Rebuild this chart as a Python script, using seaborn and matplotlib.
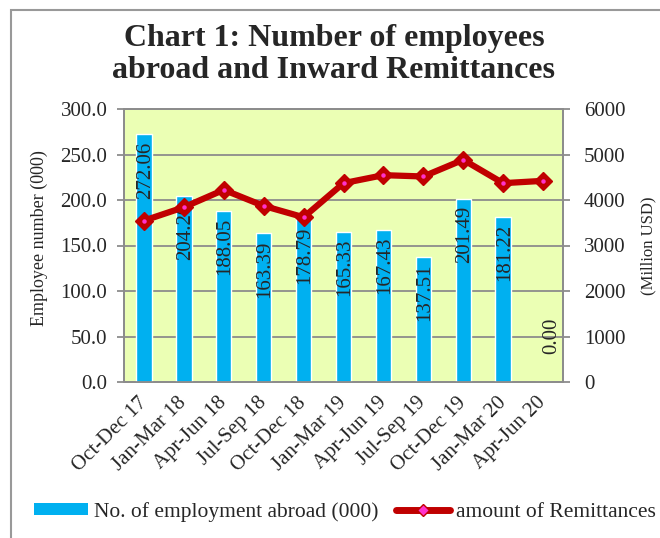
import numpy as np
import seaborn as sns
import matplotlib.pyplot as plt
from matplotlib.patches import Patch, Rectangle
from matplotlib.lines import Line2D

# Chart data
quarters = ['Oct-Dec 17', 'Jan-Mar 18', 'Apr-Jun 18', 'Jul-Sep 18', 'Oct-Dec 18',
            'Jan-Mar 19', 'Apr-Jun 19', 'Jul-Sep 19', 'Oct-Dec 19', 'Jan-Mar 20',
            'Apr-Jun 20']
employees = [272.06, 204.20, 188.05, 163.39, 178.79, 165.33, 167.43, 137.51,
             201.49, 181.22, 0.00]
remittances = [3547, 3841, 4223, 3870, 3621, 4370, 4546, 4517, 4884, 4370, 4421]

left_ticks = [0, 50, 100, 150, 200, 250, 300]
right_ticks = [0, 1000, 2000, 3000, 4000, 5000, 6000]

sns.set_style("white")
plt.rcParams['font.family'] = ['Liberation Serif', 'DejaVu Serif']

blue = '#00B0F0'
red = '#C00000'
grey = '#8C8C8C'

fig = plt.figure(figsize=(6.6, 5.38), dpi=100)
ax = fig.add_axes([124 / 660, 1 - 382 / 538, (563 - 124) / 660, (382 - 109) / 538])
ax.set_facecolor('#EBFFB4')

# bars
sns.barplot(x=quarters, y=employees, color=blue, saturation=1, width=0.385, ax=ax,
            zorder=3)
ax.set_xlim(-0.5, len(quarters) - 0.5)
ax.set_ylim(0, 300)
ax.set_yticks(left_ticks)
ax.set_yticklabels([f'{t:.1f}' for t in left_ticks], fontsize=15)
ax.yaxis.grid(True, color=grey, lw=1.3, zorder=0)
ax.set_axisbelow(True)
ax.set_xticks(range(len(quarters)))
ax.set_xticklabels(quarters, rotation=45, ha='right', va='center',
                   rotation_mode='anchor', fontsize=15)
ax.set_xticks(np.arange(-0.5, len(quarters)), minor=True)
ax.tick_params(axis='x', which='major', length=0, pad=13)
ax.tick_params(axis='x', which='minor', length=5, width=1.3, color=grey, direction='out')
ax.tick_params(axis='y', length=5, width=1.3, color=grey, direction='out', pad=7)
for s in ax.spines.values():
    s.set_color(grey)
    s.set_linewidth(1.3)
ax.set_ylabel('Employee number (000)', fontsize=13)
ax.yaxis.set_label_coords(-0.172, 0.527)
ax.set_xlabel('')

# value labels on the bars
for i, v in enumerate(employees):
    if v == 0:
        ax.annotate(f'{v:.2f}', xy=(i, v), xytext=(6, 20), textcoords='offset points',
                    rotation=90, ha='center', va='bottom', fontsize=15, zorder=5)
    else:
        ax.annotate(f'{v:.2f}', xy=(i, v), xytext=(1, -5), textcoords='offset points',
                    rotation=90, ha='center', va='top', fontsize=15, zorder=5)

# remittance line on secondary axis
ax2 = ax.twinx()
pos = np.arange(len(quarters))
ax2.plot(pos, remittances, color=red, lw=4.5, marker='D', markersize=9,
         markerfacecolor=red, markeredgecolor=red, zorder=4)
ax2.plot(pos, remittances, ls='none', marker='o', markersize=2.2, color='#FF33CC', zorder=5)
ax2.set_ylim(0, 6000)
ax2.set_yticks(right_ticks)
ax2.set_yticklabels([str(t) for t in right_ticks], fontsize=15)
ax2.tick_params(axis='y', length=5, width=1.3, color=grey, direction='out', pad=10)
for s in ax2.spines.values():
    s.set_color(grey)
    s.set_linewidth(1.3)
ax2.set_ylabel('(Million USD)', fontsize=12, labelpad=11)
ax2.grid(False)

fig.suptitle('Chart 1: Number of employees\nabroad and Inward Remittances',
             x=0.506, y=1 - 24 / 538, va='top', fontsize=23, fontweight='bold',
             linespacing=1.15)

handles = [Patch(facecolor=blue, edgecolor='none'),
           Line2D([0], [0], color=red, lw=5, marker='D', markersize=6,
                  markerfacecolor='#FF33CC', markeredgecolor=red)]
fig.legend(handles, ['No. of employment abroad (000)', 'amount of Remittances'],
           loc='center', bbox_to_anchor=(0.523, 1 - 512 / 538), ncol=2, frameon=False,
           fontsize=15.5, handlelength=2.5, handleheight=0.5, columnspacing=0.8,
           handletextpad=0.3)

# outer chart frame
fig.patches.append(Rectangle((11 / 660, -0.1), 1.5, 1 - 10 / 538 + 0.1,
                             transform=fig.transFigure, fill=False,
                             edgecolor='#999999', lw=1.5))

fig.savefig('out.png', dpi=100)
